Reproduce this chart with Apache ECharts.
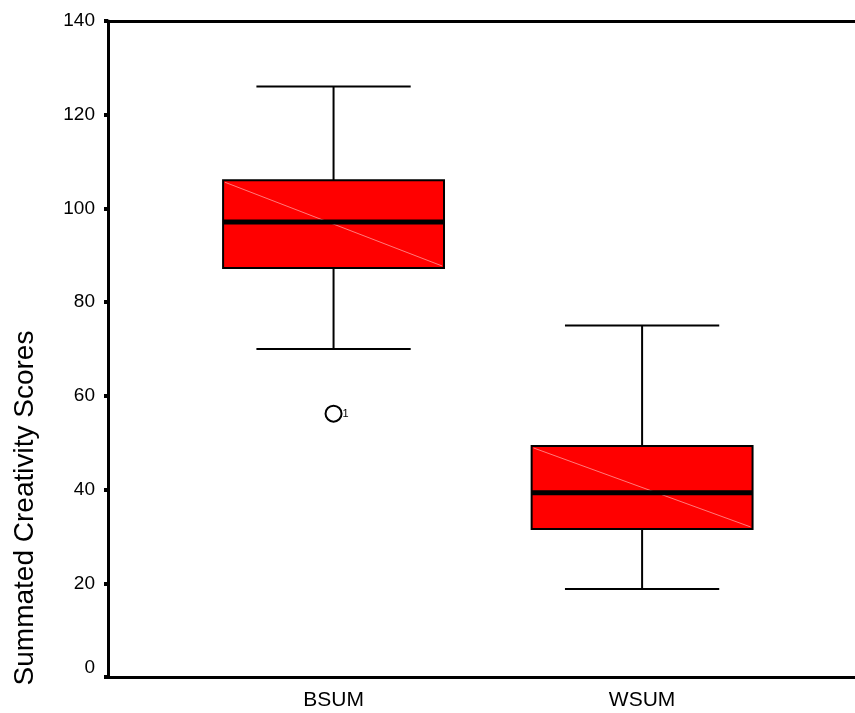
<!DOCTYPE html>
<html>
<head>
<meta charset="utf-8">
<script src="https://cdn.jsdelivr.net/npm/echarts@6/dist/echarts.min.js"></script>
<style>html,body{margin:0;padding:0;background:#fff;}#c{width:855px;height:713px;}</style>
</head>
<body>
<div id="c"></div>
<script>
const categories = ['BSUM', 'WSUM'];
const whiskerLow = [70, 18.8];
const q1 = [87.3, 31.6];
const median = [97.1, 39.3];
const q3 = [106, 49.3];
const whiskerHigh = [126, 75];
const outlierValues = [[1, 56.2]];
const outlierLabels = ['1'];
const yMin = 0, yMax = 140, yInterval = 20;

const boxData = categories.map((c, i) => [i + 1, whiskerLow[i], q1[i], median[i], q3[i], whiskerHigh[i]]);
const outlierData = outlierValues.map((v, i) => ({ value: v, label: { formatter: outlierLabels[i] } }));

const BOX_HALF = 0.358;
const CAP_HALF = 0.25;

function renderBox(params, api) {
  const x = api.value(0);
  const lo = api.coord([x, api.value(1)]);
  const b1 = api.coord([x, api.value(2)]);
  const md = api.coord([x, api.value(3)]);
  const b3 = api.coord([x, api.value(4)]);
  const hi = api.coord([x, api.value(5)]);
  const half = api.size([BOX_HALF, 0])[0];
  const cap = api.size([CAP_HALF, 0])[0];
  const cx = lo[0];
  const ls = { stroke: '#000', lineWidth: 2 };
  return {
    type: 'group',
    children: [
      { type: 'line', shape: { x1: cx, y1: hi[1], x2: cx, y2: b3[1] }, style: ls },
      { type: 'line', shape: { x1: cx, y1: b1[1], x2: cx, y2: lo[1] }, style: ls },
      { type: 'line', shape: { x1: cx - cap, y1: hi[1], x2: cx + cap, y2: hi[1] }, style: ls },
      { type: 'line', shape: { x1: cx - cap, y1: lo[1], x2: cx + cap, y2: lo[1] }, style: ls },
      { type: 'rect', shape: { x: cx - half, y: b3[1], width: 2 * half, height: b1[1] - b3[1] },
        style: { fill: '#ff0000', stroke: '#000', lineWidth: 2 } },
      { type: 'line', shape: { x1: cx - half + 2, y1: b3[1] + 2, x2: cx + half - 2, y2: b1[1] - 2 },
        style: { stroke: '#ff7a7a', lineWidth: 1 } },
      { type: 'line', shape: { x1: cx - half, y1: md[1], x2: cx + half, y2: md[1] },
        style: { stroke: '#000', lineWidth: 5 } }
    ]
  };
}

const chart = echarts.init(document.getElementById('c'), null, { renderer: 'canvas' });
chart.setOption({
  animation: false,
  backgroundColor: '#fff',
  grid: { left: 108, right: 0, top: 21, bottom: 36, containLabel: false },
  xAxis: [
    {
      type: 'value', min: 0.269, max: 2.69, position: 'bottom',
      splitLine: { show: false },
      axisLine: { show: true, onZero: false, lineStyle: { color: '#000', width: 3 } },
      axisTick: { show: false },
      axisLabel: {
        show: true, customValues: [1, 2], margin: 13,
        formatter: v => categories[Math.round(v) - 1] || '',
        color: '#000', fontSize: 21, fontFamily: 'Liberation Sans, Arial, sans-serif'
      }
    },
    {
      type: 'value', min: 0.269, max: 2.69, position: 'top',
      splitLine: { show: false },
      axisLine: { show: true, onZero: false, lineStyle: { color: '#000', width: 3 } },
      axisTick: { show: false }, axisLabel: { show: false }
    }
  ],
  yAxis: {
    type: 'value', min: yMin, max: yMax, interval: yInterval,
    splitLine: { show: false },
    axisLine: { show: true, onZero: false, lineStyle: { color: '#000', width: 3 } },
    axisTick: { show: true, length: 4, lineStyle: { color: '#000', width: 4 } },
    axisLabel: { color: '#000', fontSize: 19, margin: 13, verticalAlignMinLabel: 'bottom',
      fontFamily: 'Liberation Sans, Arial, sans-serif' }
  },
  graphic: [{
    type: 'text', x: 25, y: 508, rotation: Math.PI / 2,
    style: {
      text: 'Summated Creativity Scores', fill: '#000',
      font: '28px "Liberation Sans", Arial, sans-serif',
      align: 'center', verticalAlign: 'middle'
    }
  }],
  series: [
    {
      type: 'custom', renderItem: renderBox, data: boxData,
      encode: { x: 0, y: [1, 2, 3, 4, 5] }, clip: false
    },
    {
      type: 'scatter', data: outlierData, symbol: 'circle', symbolSize: 16,
      itemStyle: { color: '#fff', borderColor: '#000', borderWidth: 2, opacity: 1 },
      label: { show: true, position: 'right', distance: 0, color: '#000', fontSize: 11,
        fontFamily: 'Liberation Sans, Arial, sans-serif' }
    }
  ]
});
</script>
</body>
</html>
